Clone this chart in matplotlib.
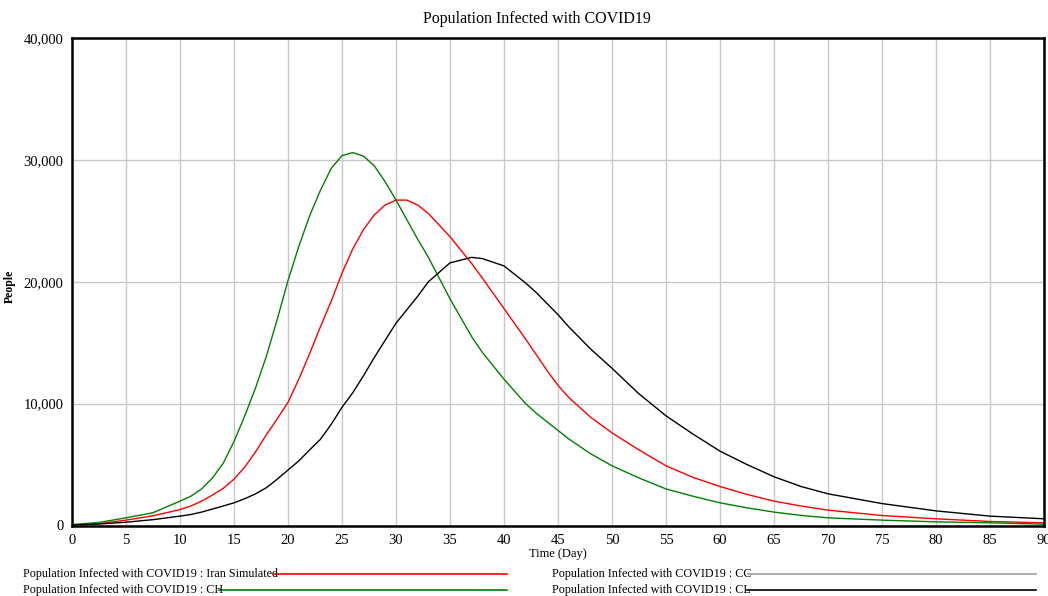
import numpy as np
import matplotlib
matplotlib.use("Agg")
import matplotlib.pyplot as plt
from matplotlib.lines import Line2D
from matplotlib.ticker import FuncFormatter

plt.rcParams['font.family'] = ['Liberation Serif', 'DejaVu Serif']

# days sampled from the chart
days = [0, 2.5, 5, 7.5, 10, 11, 12, 13, 14, 15, 16, 17, 18, 19, 20, 21, 22, 23, 24, 25, 26, 27,
        28, 29, 30, 31, 32, 33, 35, 37, 38, 40, 42, 43, 44, 45, 46, 47, 48, 50, 52.5, 55, 57.5,
        60, 62.5, 65, 67.5, 70, 75, 80, 85, 90]

iran = [50, 150, 440, 800, 1300, 1600, 2000, 2500, 3050, 3800, 4800, 6050, 7450, 8750, 10100,
        12000, 14100, 16300, 18400, 20700, 22700, 24300, 25500, 26300, 26700, 26700, 26300,
        25600, 23700, 21500, 20300, 17800, 15300, 14000, 12700, 11500, 10500, 9700, 8900,
        7600, 6200, 4900, 3950, 3200, 2550, 2000, 1600, 1260, 820, 550, 330, 220]

cc = [0] * len(days)

ch = [80, 250, 630, 1050, 2000, 2400, 3000, 3900, 5100, 6900, 9000, 11300, 13900, 16900,
      20100, 22900, 25400, 27500, 29300, 30350, 30600, 30300, 29500, 28200, 26700, 25100,
      23500, 22000, 18600, 15500, 14200, 12000, 10000, 9200, 8500, 7800, 7100, 6500, 5900,
      4900, 3900, 3000, 2400, 1860, 1450, 1100, 830, 630, 440, 300, 220, 110]

cl = [30, 120, 270, 480, 770, 900, 1100, 1350, 1600, 1860, 2200, 2600, 3100, 3800, 4550,
      5300, 6200, 7070, 8300, 9700, 10900, 12300, 13800, 15200, 16600, 17700, 18800, 20000,
      21550, 22000, 21900, 21300, 19900, 19100, 18200, 17300, 16300, 15400, 14500, 12900,
      10800, 9000, 7500, 6100, 5000, 4000, 3200, 2600, 1800, 1200, 770, 550]

series = [
    ("Population Infected with COVID19 : Iran Simulated", iran, "#ff0000"),
    ("Population Infected with COVID19 : CC", cc, "#a0a0a0"),
    ("Population Infected with COVID19 : CH", ch, "#008000"),
    ("Population Infected with COVID19 : CL", cl, "#000000"),
]

fig = plt.figure(figsize=(10.48, 5.96), dpi=100)
ax = fig.add_axes([72 / 1048, 1 - 525.5 / 596, (1044 - 72) / 1048, (525.5 - 38) / 596])

for name, vals, col in series:
    ax.plot(days, vals, color=col, lw=1.0, zorder=2)

ax.set_xlim(0, 90)
ax.set_ylim(0, 40000)
ax.set_xticks(np.arange(0, 91, 5))
ax.set_yticks(np.arange(0, 40001, 10000))
ax.yaxis.set_major_formatter(FuncFormatter(lambda v, p: f"{int(v):,}"))
ax.grid(True, color="#c8c8c8", lw=1.0)
ax.set_axisbelow(True)
ax.tick_params(length=0, labelsize=10.5, pad=6)
for s in ax.spines.values():
    s.set_linewidth(1.8)
    s.set_color("black")

ax.set_xlabel("Time (Day)", fontsize=9, labelpad=1)
ax.set_ylabel("People", fontsize=8.5, fontweight="bold")
ax.yaxis.set_label_coords(-0.0576, 0.49)
fig.text(537 / 1048, 1 - 19 / 596, "Population Infected with COVID19", ha="center", va="center",
         fontsize=11.5)

# legend below the plot, two columns
fig.canvas.draw()
renderer = fig.canvas.get_renderer()
legend_pos = [(23, 574, 507), (552, 574, 1036), (23, 590, 507), (552, 590, 1036)]
for (name, vals, col), (lx, ly, rx) in zip(series, legend_pos):
    t = fig.text(lx / 1048, 1 - ly / 596, name, ha="left", va="center", fontsize=8.75)
    bb = t.get_window_extent(renderer)
    fig.add_artist(Line2D([(bb.x1 - 4) / 1048, rx / 1048], [1 - ly / 596, 1 - ly / 596],
                          color=col, lw=1.2, transform=fig.transFigure))

fig.savefig("out.png", dpi=100)
